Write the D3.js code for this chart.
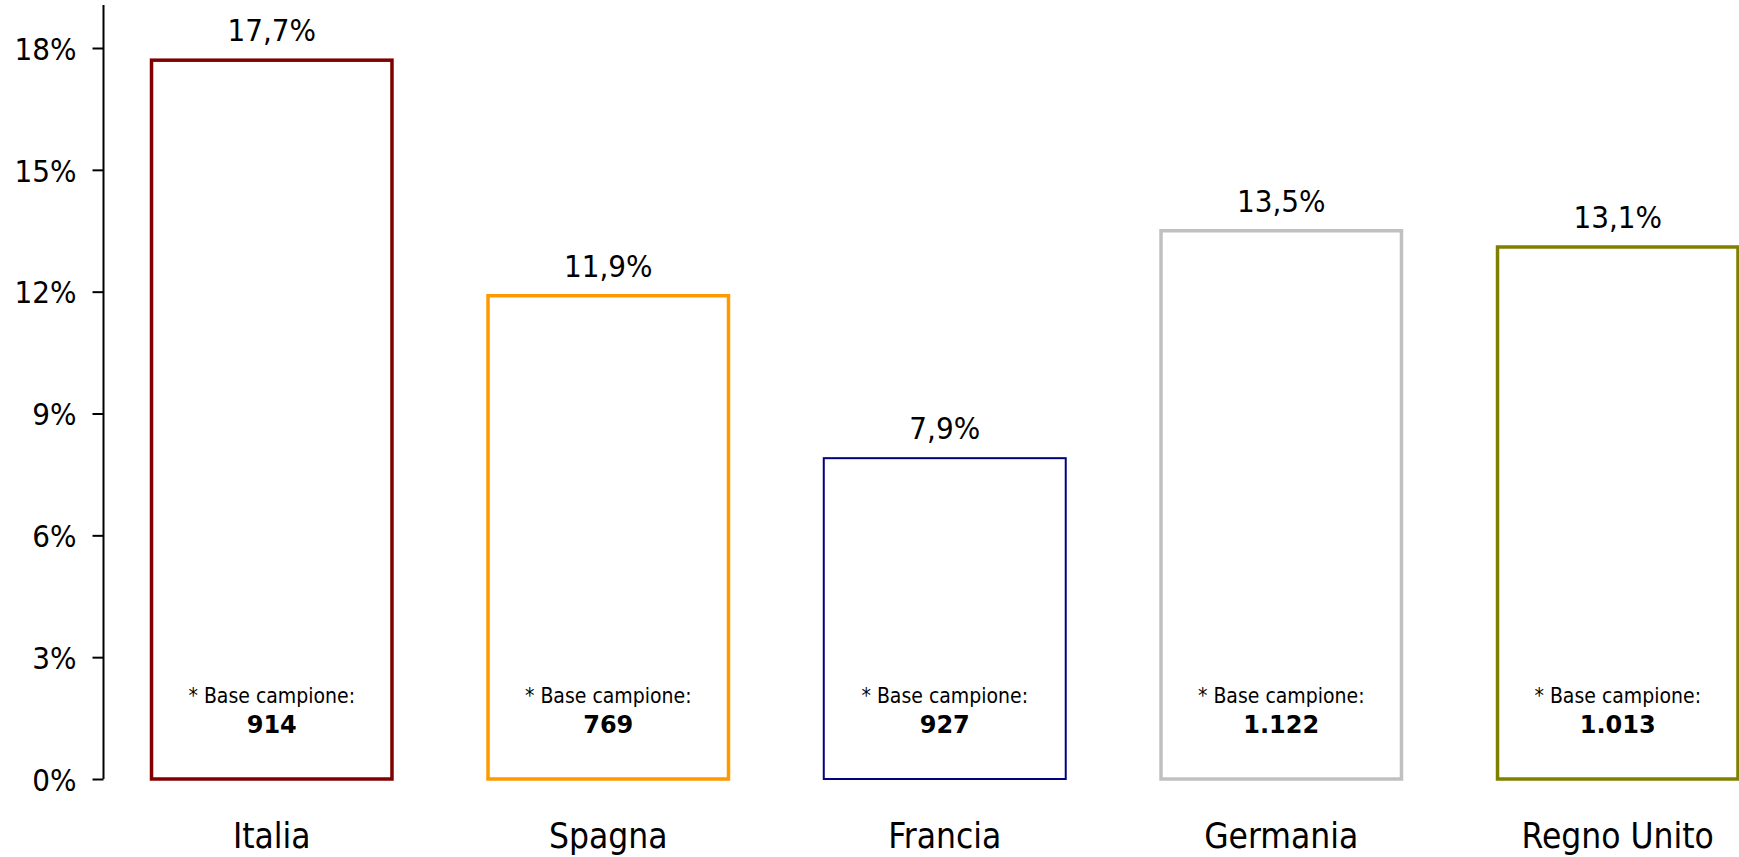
<!DOCTYPE html>
<html>
<head>
<meta charset="utf-8">
<script src="https://cdn.jsdelivr.net/npm/d3@7"></script>
<style>
  html, body { margin: 0; padding: 0; background: #fff; }
  svg { display: block; }
  text { font-family: "DejaVu Sans Condensed", "DejaVu Sans", sans-serif; font-stretch: condensed; fill: #000; }
  .num { font-family: "DejaVu Sans", sans-serif; font-stretch: normal; font-weight: bold; }
</style>
</head>
<body>
<div id="chart"></div>
<script>
// data
var countries = ["Italia", "Spagna", "Francia", "Germania", "Regno Unito"];
var shares = [17.7, 11.9, 7.9, 13.5, 13.1];
var sampleBase = ["914", "769", "927", "1.122", "1.013"];
var barColors = ["#800000", "#FF9900", "#000080", "#C0C0C0", "#808000"];
var tickValues = [0, 3, 6, 9, 12, 15, 18];

var width = 1739, height = 857;
var axisX = 103.5;

var data = countries.map(function (c, i) {
    return {name: c, value: shares[i], base: sampleBase[i], color: barColors[i],
            stroke: c === "Francia" ? 2 : 3.5};
});

var svg = d3.select("#chart")
    .append("svg")
    .attr("width", width)
    .attr("height", height);

// y scale
var y = d3.scaleLinear()
    .domain([0, 18])
    .range([779, 48]);

// x scale, the last band runs past the right edge like in the original
var x = d3.scaleBand()
    .domain(countries)
    .range([axisX, axisX + 5 * 336.5])
    .paddingInner(0.275)
    .paddingOuter(0.1375);

// y axis
var yAxis = svg.append("g")
    .attr("transform", "translate(" + axisX + ",0)")
    .call(d3.axisLeft(y)
        .tickValues(tickValues)
        .tickSize(11)
        .tickSizeOuter(0)
        .tickPadding(16)
        .tickFormat(function (d) { return d + "%"; }));
yAxis.select(".domain").remove();
yAxis.selectAll(".tick line").attr("stroke", "#000").attr("stroke-width", 2);
yAxis.selectAll(".tick text")
    .style("font-size", "31px")
    .attr("dy", "0.36em");
yAxis.append("line")
    .attr("x1", 0).attr("x2", 0)
    .attr("y1", y(0)).attr("y2", 5)
    .attr("stroke", "#000")
    .attr("stroke-width", 2);

// bars (outline only)
var bars = svg.append("g")
    .selectAll("g")
    .data(data)
    .enter()
    .append("g");

bars.append("rect")
    .attr("x", function (d) { return x(d.name) + d.stroke / 2; })
    .attr("y", function (d) { return y(d.value); })
    .attr("width", function (d) { return x.bandwidth() - d.stroke; })
    .attr("height", function (d) { return y(0) - y(d.value); })
    .style("fill", "none")
    .style("stroke", function (d) { return d.color; })
    .style("stroke-width", function (d) { return d.stroke; });

// value labels
bars.append("text")
    .attr("x", function (d) { return x(d.name) + x.bandwidth() / 2; })
    .attr("y", function (d) { return y(d.value) - 19; })
    .attr("text-anchor", "middle")
    .style("font-size", "31px")
    .text(function (d) { return d3.format(".1f")(d.value).replace(".", ",") + "%"; });

// sample base notes
bars.append("text")
    .attr("x", function (d) { return x(d.name) + x.bandwidth() / 2; })
    .attr("y", y(0) - 76)
    .attr("text-anchor", "middle")
    .style("font-size", "21px")
    .text("* Base campione:");

bars.append("text")
    .attr("class", "num")
    .attr("x", function (d) { return x(d.name) + x.bandwidth() / 2; })
    .attr("y", y(0) - 46)
    .attr("text-anchor", "middle")
    .style("font-size", "24px")
    .text(function (d) { return d.base; });

// category labels
bars.append("text")
    .attr("x", function (d) { return x(d.name) + x.bandwidth() / 2; })
    .attr("y", y(0) + 69)
    .attr("text-anchor", "middle")
    .style("font-size", "35px")
    .text(function (d) { return d.name; });
</script>
</body>
</html>
